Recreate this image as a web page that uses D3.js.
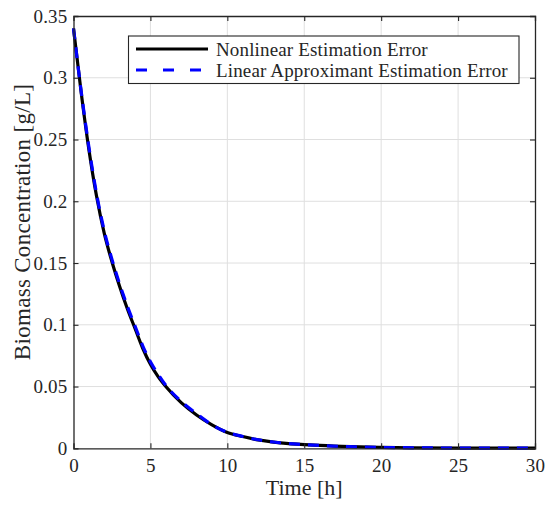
<!DOCTYPE html>
<html>
<head>
<meta charset="utf-8">
<script src="https://cdn.jsdelivr.net/npm/d3@7"></script>
<style>
  body { margin: 0; background: #fff; }
  text { font-family: "Liberation Serif", serif; fill: #262626; }
</style>
</head>
<body>
<div id="chart"></div>
<script>
// time [h] and the two estimation errors
const time = [0, 0.5, 1, 1.5, 2, 2.5, 3, 3.5, 4, 4.5, 5, 5.5, 6, 7, 8, 9, 10, 11, 12, 13, 14, 15, 16, 18, 20, 22, 25, 30];
const nonlinear = [0.340, 0.288, 0.242, 0.204, 0.174, 0.151, 0.131, 0.113, 0.097, 0.081, 0.068, 0.058, 0.050, 0.037, 0.027, 0.019, 0.0128, 0.0095, 0.0068, 0.0050, 0.0038, 0.0030, 0.0023, 0.0013, 0.0007, 0.0004, 0.0002, 0.0001];
const linearApprox = [0.340, 0.289, 0.244, 0.206, 0.176, 0.153, 0.133, 0.115, 0.099, 0.083, 0.070, 0.060, 0.051, 0.038, 0.028, 0.019, 0.0130, 0.0096, 0.0069, 0.0051, 0.0038, 0.0030, 0.0023, 0.0013, 0.0007, 0.0004, 0.0002, 0.0001];
const xTicks = [0, 5, 10, 15, 20, 25, 30];
const yTicks = [0, 0.05, 0.1, 0.15, 0.2, 0.25, 0.3, 0.35];
const seriesNames = ['Nonlinear Estimation Error', 'Linear Approximant Estimation Error'];

const width = 550, height = 508;
const margin = {top: 16, right: 15, bottom: 60, left: 73.5};

const svg = d3.select('#chart').append('svg')
  .attr('width', width)
  .attr('height', height);

const x = d3.scaleLinear().domain([0, 30]).range([margin.left, width - margin.right]);
const y = d3.scaleLinear().domain([0, 0.35]).range([height - margin.bottom + 0.3, margin.top]);

const axisColor = '#262626';
const gridColor = '#dfdfdf';
const font = '"Liberation Serif", serif';

// grid
const grid = svg.append('g');
grid.selectAll('.gx').data(xTicks.slice(1, -1)).join('line')
  .attr('x1', d => x(d)).attr('x2', d => x(d))
  .attr('y1', y(0)).attr('y2', y(0.35))
  .attr('stroke', gridColor).attr('stroke-width', 1);
grid.selectAll('.gy').data(yTicks.slice(1, -1)).join('line')
  .attr('x1', x(0)).attr('x2', x(30))
  .attr('y1', d => y(d)).attr('y2', d => y(d))
  .attr('stroke', gridColor).attr('stroke-width', 1);

// curves
const line = d3.line().x(d => x(d[0])).y(d => y(d[1])).curve(d3.curveMonotoneX);
svg.append('path')
  .datum(d3.zip(time, nonlinear))
  .attr('d', line)
  .attr('fill', 'none').attr('stroke', '#000').attr('stroke-width', 3.2);
svg.append('path')
  .datum(d3.zip(time, linearApprox))
  .attr('d', line)
  .attr('fill', 'none').attr('stroke', '#0000ff').attr('stroke-width', 3.2)
  .attr('stroke-dasharray', '11,8');

// axes with inward ticks on all four sides
const tick = 5;
const xBottom = svg.append('g').attr('transform', `translate(0,${y(0)})`)
  .call(d3.axisBottom(x).tickValues(xTicks).tickSize(-tick).tickPadding(10).tickFormat(d3.format('d')));
const xTop = svg.append('g').attr('transform', `translate(0,${y(0.35)})`)
  .call(d3.axisTop(x).tickValues(xTicks).tickSize(-tick).tickFormat(''));
const yLeft = svg.append('g').attr('transform', `translate(${x(0)},0)`)
  .call(d3.axisLeft(y).tickValues(yTicks).tickSize(-tick).tickPadding(6).tickFormat(d => d === 0 ? '0' : String(+d.toFixed(2))));
const yRight = svg.append('g').attr('transform', `translate(${x(30)},0)`)
  .call(d3.axisRight(y).tickValues(yTicks).tickSize(-tick).tickFormat(''));

[xBottom, xTop, yLeft, yRight].forEach(g => {
  g.select('.domain').attr('stroke', axisColor).attr('stroke-width', 1.3);
  g.selectAll('.tick line').attr('stroke', axisColor).attr('stroke-width', 1.1);
  g.selectAll('.tick text')
    .style('font-family', font).style('font-size', '19px').style('letter-spacing', '0.2px')
    .attr('fill', axisColor);
});
// hide end ticks that coincide with the frame
xTop.selectAll('.tick').filter(d => d === 0 || d === 30).remove();
xBottom.selectAll('.tick line').filter(d => d === 0 || d === 30).remove();
yRight.selectAll('.tick').filter(d => d === 0 || d === 0.35).remove();
yLeft.selectAll('.tick line').filter(d => d === 0 || d === 0.35).remove();

// axis labels
svg.append('text')
  .attr('x', (x(0) + x(30)) / 2).attr('y', 495)
  .attr('text-anchor', 'middle')
  .style('font-size', '22px')
  .text('Time [h]');
svg.append('text')
  .attr('transform', 'translate(30,222) rotate(-90)')
  .attr('text-anchor', 'middle')
  .style('font-size', '23px').style('letter-spacing', '0.3px')
  .text('Biomass Concentration [g/L]');

// legend
const legend = svg.append('g');
legend.append('rect')
  .attr('x', 128.5).attr('y', 36)
  .attr('width', 390.5).attr('height', 47.5)
  .attr('fill', '#fff').attr('stroke', axisColor).attr('stroke-width', 1.1);
const rows = [
  {name: seriesNames[0], color: '#000', dash: null, y: 49},
  {name: seriesNames[1], color: '#0000ff', dash: '11,16', y: 70}
];
rows.forEach(r => {
  legend.append('line')
    .attr('x1', 136).attr('x2', 208)
    .attr('y1', r.y).attr('y2', r.y)
    .attr('stroke', r.color).attr('stroke-width', 3.2)
    .attr('stroke-dasharray', r.dash);
  legend.append('text')
    .attr('x', 216).attr('y', r.y + 6.5)
    .style('font-size', '19px').style('letter-spacing', '0.15px')
    .text(r.name);
});
</script>
</body>
</html>
